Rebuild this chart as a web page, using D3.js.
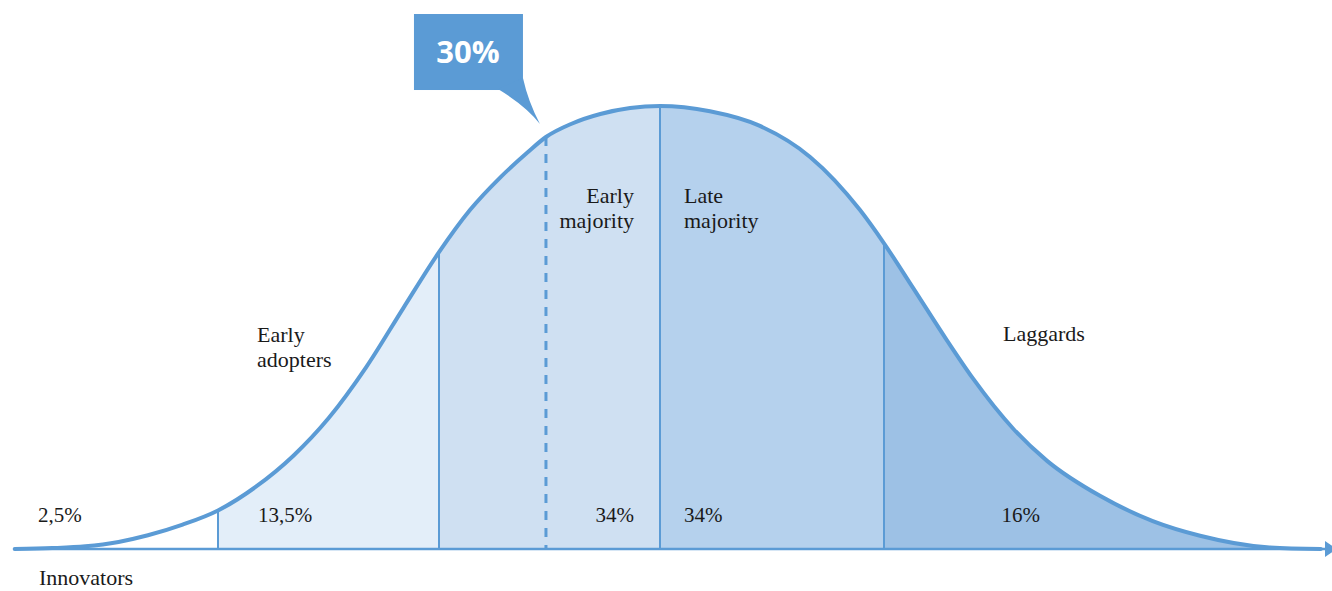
<!DOCTYPE html>
<html>
<head>
<meta charset="utf-8">
<script src="https://cdn.jsdelivr.net/npm/d3@7/dist/d3.min.js"></script>
<style>
  html, body { margin: 0; padding: 0; background: #ffffff; }
  svg { display: block; }
</style>
</head>
<body>
<svg id="chart" width="1332" height="591"></svg>
<script>
// ---- Data ----
// Adopter categories, left to right
const categories = ["Innovators", "Early adopters", "Early majority", "Late majority", "Laggards"];
// Share of each category
const shares = ["2,5%", "13,5%", "34%", "34%", "16%"];
// Category boundaries in standard deviations from the mean
const boundaries = [-2, -1, 0, 1];
// Bell curve, x in standard deviations, y as height relative to the peak
const curveX = [-2.92, -2.75, -2.6, -2.45, -2.317, -2.16, -2.0, -1.83, -1.66, -1.5, -1.33, -1.16, -1.0, -0.86, -0.72, -0.6, -0.516, -0.4, -0.27, 0,
                 0.223, 0.446, 0.67, 0.893, 1.0, 1.129, 1.281, 1.397, 1.576, 1.728, 1.964, 2.2, 2.411, 2.71, 2.95];
const curveY = [0.0, 0.002, 0.006, 0.016, 0.031, 0.055, 0.087, 0.14, 0.21, 0.295, 0.41, 0.545, 0.67, 0.765, 0.84, 0.895, 0.93, 0.96, 0.982, 1.0,
                0.988, 0.955, 0.885, 0.765, 0.69, 0.59, 0.471, 0.385, 0.272, 0.199, 0.12, 0.063, 0.03, 0.004, 0.0];
// Callout
const calloutLabel = "30%";
const calloutAt = -0.516;

// ---- Styles ----
const lineColor = "#5b9bd5";
const fills = ["#ffffff", "#e3eef9", "#cfe0f2", "#b5d1ed", "#9dc1e5"];
const serif = "'Liberation Serif', 'DejaVu Serif', serif";

const svg = d3.select("#chart");
const x = d3.scaleLinear().domain([-2, -1, 0, 1]).range([218, 439, 660, 884]);
const y = d3.scaleLinear().domain([0, 1]).range([549, 106]);

const pts = curveX.map((v, i) => ({ s: v, h: curveY[i] }));
const hAt = s => pts.find(p => Math.abs(p.s - s) < 1e-9).h;

const area = d3.area().x(d => x(d.s)).y0(y(0)).y1(d => y(d.h)).curve(d3.curveMonotoneX);
const line = d3.line().x(d => x(d.s)).y(d => y(d.h)).curve(d3.curveMonotoneX);

// segment extents
const edges = [curveX[0], ...boundaries, curveX[curveX.length - 1]];
const defs = svg.append("defs");
categories.forEach((c, i) => {
  defs.append("clipPath").attr("id", "seg" + i)
    .append("rect")
    .attr("x", x(edges[i])).attr("y", 0)
    .attr("width", x(edges[i + 1]) - x(edges[i])).attr("height", y(0));
});
categories.forEach((c, i) => {
  svg.append("path").datum(pts)
    .attr("d", area)
    .attr("fill", fills[i])
    .attr("clip-path", `url(#seg${i})`);
});

// boundary lines
svg.selectAll("line.bound").data(boundaries).enter().append("line")
  .attr("class", "bound")
  .attr("x1", d => x(d)).attr("x2", d => x(d))
  .attr("y1", d => y(hAt(d))).attr("y2", y(0))
  .attr("stroke", lineColor).attr("stroke-width", 2);

// dashed line
svg.append("line")
  .attr("x1", x(calloutAt)).attr("x2", x(calloutAt))
  .attr("y1", y(hAt(calloutAt))).attr("y2", y(0))
  .attr("stroke", lineColor).attr("stroke-width", 3)
  .attr("stroke-dasharray", "9,8");

// baseline axis with arrow
svg.append("line")
  .attr("x1", 15).attr("x2", 1328).attr("y1", y(0)).attr("y2", y(0))
  .attr("stroke", lineColor).attr("stroke-width", 2.5);
svg.append("path")
  .attr("d", `M1325,${y(0) - 8} L1337,${y(0)} L1325,${y(0) + 8} Z`)
  .attr("fill", lineColor);

// curve
svg.append("path").datum(pts)
  .attr("d", line)
  .attr("fill", "none")
  .attr("stroke", lineColor).attr("stroke-width", 4)
  .attr("stroke-linecap", "round");

// callout
const ax = x(calloutAt), ay = y(hAt(calloutAt));
svg.append("rect")
  .attr("x", ax - 132).attr("y", ay - 123)
  .attr("width", 109).attr("height", 76)
  .attr("fill", lineColor);
svg.append("path")
  .attr("d", `M${ax - 48},${ay - 48} Q${ax - 20},${ay - 31} ${ax - 6},${ay - 13} Q${ax - 18},${ay - 36} ${ax - 23},${ay - 59} Z`)
  .attr("fill", lineColor);
svg.append("text")
  .attr("x", ax - 78).attr("y", ay - 74)
  .attr("text-anchor", "middle")
  .attr("font-family", "'Open Sans', sans-serif")
  .attr("font-weight", 700)
  .attr("font-size", 31)
  .attr("fill", "#ffffff")
  .text(calloutLabel);

// labels
function label(lines, px, py, anchor, size) {
  const t = svg.append("text")
    .attr("font-family", serif).attr("font-size", size)
    .attr("fill", "#1a1a1a").attr("text-anchor", anchor);
  lines.forEach((l, i) => t.append("tspan").attr("x", px).attr("y", py + i * 25).text(l));
}
const words = categories.map(c => c.split(" "));
// category names
label(words[0], 39, 585, "start", 22);
label(words[1], x(-2) + 39, 342, "start", 22);
label(words[2], x(0) - 26, 203, "end", 22);
label(words[3], x(0) + 24, 203, "start", 22);
label(words[4], x(1) + 119, 341, "start", 22);
// shares
const pctY = 522;
label([shares[0]], 38, pctY, "start", 21);
label([shares[1]], x(-2) + 40, pctY, "start", 21);
label([shares[2]], x(0) - 26, pctY, "end", 21);
label([shares[3]], x(0) + 24, pctY, "start", 21);
label([shares[4]], x(1) + 156, pctY, "end", 21);
</script>
</body>
</html>
